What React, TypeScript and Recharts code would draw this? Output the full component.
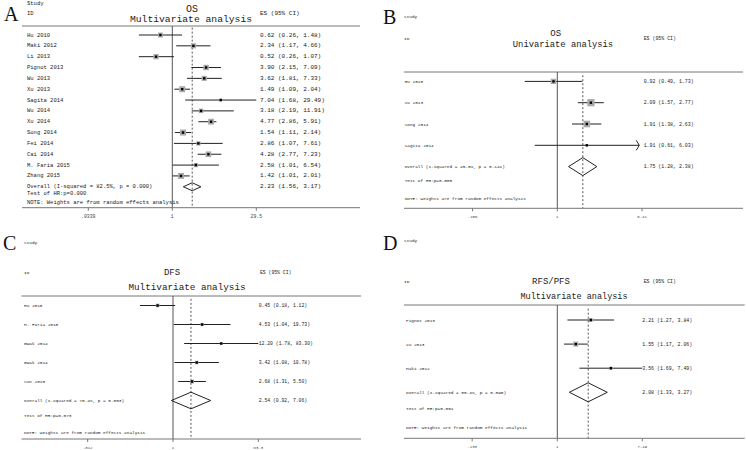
import React from 'react';
import { ComposedChart, XAxis, YAxis, Scatter, ReferenceLine } from 'recharts';

// A: OS, multivariate
const A_STUDY = ['Hu 2010', 'Maki 2012', 'Li 2013', 'Pignot 2013', 'Wu 2013', 'Xu 2013', 'Sagita 2014', 'Wu 2014', 'Xu 2014', 'Song 2014', 'Fei 2014', 'Cai 2014', 'M. Faria 2015', 'Zhang 2015'];
const A_ES = [0.62, 2.34, 0.52, 3.9, 3.62, 1.49, 7.04, 3.18, 4.77, 1.54, 2.86, 4.28, 2.58, 1.42];
const A_LO = [0.26, 1.17, 0.26, 2.15, 1.81, 1.09, 1.68, 2.19, 2.86, 1.11, 1.07, 2.77, 1.01, 1.01];
const A_HI = [1.48, 4.66, 1.07, 7.09, 7.33, 2.04, 29.49, 11.91, 5.91, 2.14, 7.61, 7.23, 6.54, 2.01];
const A_WEIGHT = [6, 6.5, 7, 7.5, 6.5, 9, 2, 5, 8.5, 9, 4.5, 8, 4.5, 9];
const A_OVERALL = [2.23, 1.56, 3.17];
const A_STATS = ['82.5', '0.000', '0.000']; // I-squared, p, test of HR p
const A_TICKS = [0.0339, 1, 29.5];
const A_TICK_LABELS = ['.0339', '1', '29.5'];

// B: OS, univariate
const B_STUDY = ['Hu 2010', 'Xu 2013', 'Song 2014', 'Sagita 2014'];
const B_ES = [0.92, 2.09, 1.91, 1.91];
const B_LO = [0.49, 1.57, 1.38, 0.61];
const B_HI = [1.73, 2.77, 2.63, 6.03];
const B_WEIGHT = [20, 36, 30, 3];
const B_ARROW = [false, false, false, true];
const B_OVERALL = [1.75, 1.28, 2.38];
const B_STATS = ['45.8', '0.141', '0.000'];
const B_TICKS = [0.156, 1, 6.41];
const B_TICK_LABELS = ['.156', '1', '6.41'];

// C: DFS, multivariate
const C_STUDY = ['Hu 2010', 'M. Faria 2015', 'Gwak 2014', 'Gwak 2014', 'Sun 2015'];
const C_ES = [0.45, 4.53, 12.2, 3.42, 2.68];
const C_LO = [0.18, 1.04, 1.78, 1.08, 1.31];
const C_HI = [1.12, 19.73, 83.3, 10.78, 5.5];
const C_WEIGHT = [21, 17, 11, 19, 24];
const C_OVERALL = [2.54, 0.92, 7.06];
const C_STATS = ['75.4', '0.003', '0.073'];
const C_TICKS = [0.012, 1, 83.3];
const C_TICK_LABELS = ['.012', '1', '83.3'];

// D: RFS/PFS, multivariate
const D_STUDY = ['Pignot 2013', 'Xu 2013', 'Maki 2012'];
const D_ES = [2.21, 1.55, 3.56];
const D_LO = [1.27, 1.17, 1.69];
const D_HI = [3.84, 2.06, 7.49];
const D_WEIGHT = [30, 50, 20];
const D_OVERALL = [2.08, 1.33, 3.27];
const D_STATS = ['58.4', '0.090', '0.001'];
const D_TICKS = [0.133, 1, 7.49];
const D_TICK_LABELS = ['.133', '1', '7.49'];

const PW = 373;
const PH = 225;
const AXIS_H = 14;
const MONO = '"Liberation Mono", "DejaVu Sans Mono", monospace';

const fmt = (v: number) => v.toFixed(2);
const ciText = (es: number, lo: number, hi: number) => `${fmt(es)} (${fmt(lo)}, ${fmt(hi)})`;

function Txt({ x, y, size, children, center, color = '#222', font = MONO }: any) {
  return (
    <div
      style={{
        position: 'absolute',
        left: x,
        top: y,
        fontFamily: font,
        fontSize: size,
        lineHeight: 1,
        whiteSpace: 'pre',
        color,
        transform: center ? 'translate(-50%, -50%)' : 'translateY(-50%)',
      }}
    >
      {children}
    </div>
  );
}

function Forest({ pos, letter, title, sub, study, es, lo, hi, weight, arrow, overall, stats, ticks, tickLabels, g }: any) {
  const n = study.length;
  const d0 = 1 - (g.row1 - g.top) / g.spacing;
  const d1 = 1 + (g.bottom - g.row1) / g.spacing;
  const xDomain = [Math.exp((g.left - g.x1) / g.pxPerLn), Math.exp((g.right - g.x1) / g.pxPerLn)];
  const oy = n + 1;
  const dh = g.diamondHalf / g.spacing;
  const [oes, olo, ohi] = overall;

  const boxes = study.map((_: string, i: number) => ({ x: es[i], y: i + 1, w: weight[i] }));
  const arrows = study
    .map((_: string, i: number) => ({ x: hi[i], y: i + 1, on: arrow ? arrow[i] : false }))
    .filter((d: any) => d.on);
  const labels = [
    ...study.map((s: string, i: number) => ({ x: 1, y: i + 1, label: s, text: ciText(es[i], lo[i], hi[i]) })),
    { x: 1, y: oy, label: `Overall  (I-squared = ${stats[0]}%, p = ${stats[1]})`, text: ciText(oes, olo, ohi) },
  ];
  const diamond = [
    [{ x: olo, y: oy }, { x: oes, y: oy - dh }],
    [{ x: oes, y: oy - dh }, { x: ohi, y: oy }],
    [{ x: ohi, y: oy }, { x: oes, y: oy + dh }],
    [{ x: oes, y: oy + dh }, { x: olo, y: oy }],
  ];

  const renderBox = (p: any) => {
    const s = g.boxK * Math.sqrt(p.payload.w);
    return (
      <g>
        <rect x={p.cx - s / 2} y={p.cy - s / 2} width={s} height={s} fill="#a9a9a9" />
        <rect x={p.cx - 1.2} y={p.cy - 1.2} width={2.4} height={2.4} fill="#000" />
      </g>
    );
  };
  const renderArrow = (p: any) => (
    <path d={`M${p.cx - 3},${p.cy - 5} Q${p.cx - 1},${p.cy - 2} ${p.cx},${p.cy} Q${p.cx - 1},${p.cy + 2} ${p.cx - 3},${p.cy + 5}`} fill="none" stroke="#222" strokeWidth={1} />
  );
  const renderLabel = (p: any) => (
    <g fontFamily={MONO} fill="#222">
      <text x={g.labelX} y={p.cy} fontSize={g.small} dominantBaseline="central">{p.payload.label}</text>
      <text x={g.esX} y={p.cy} fontSize={g.esFont} dominantBaseline="central">{p.payload.text}</text>
    </g>
  );
  const tickFmt = (v: number) => {
    const k = ticks.findIndex((t: number) => Math.abs(t - v) < 1e-9);
    return k >= 0 ? tickLabels[k] : '';
  };

  return (
    <div style={{ position: 'absolute', left: pos[0], top: pos[1], width: PW, height: PH }}>
      <ComposedChart
        width={PW}
        height={PH}
        margin={{ top: g.top, left: g.left, right: PW - g.right, bottom: PH - g.bottom - AXIS_H }}
      >
        <XAxis
          dataKey="x"
          type="number"
          scale="log"
          domain={xDomain}
          allowDataOverflow
          ticks={ticks}
          tickFormatter={tickFmt}
          height={AXIS_H}
          tickSize={3}
          tickMargin={4}
          interval={0}
          axisLine={{ stroke: '#777' }}
          tickLine={{ stroke: '#777' }}
          tick={{ fontSize: g.tickFont, fontFamily: MONO, fill: '#444' }}
        />
        <YAxis dataKey="y" type="number" domain={[d0, d1]} allowDataOverflow reversed hide />
        <ReferenceLine y={d0} stroke="#777" ifOverflow="visible" />
        <ReferenceLine x={1} stroke="#555" ifOverflow="visible" />
        <ReferenceLine
          segment={[{ x: oes, y: d0 + 0.15 }, { x: oes, y: d1 }]}
          stroke="#555"
          strokeDasharray="2 2"
          ifOverflow="visible"
        />
        {study.map((_: string, i: number) => (
          <ReferenceLine
            key={i}
            segment={[{ x: lo[i], y: i + 1 }, { x: hi[i], y: i + 1 }]}
            stroke="#222"
            ifOverflow="visible"
          />
        ))}
        {diamond.map((seg, i) => (
          <ReferenceLine key={`d${i}`} segment={seg} stroke="#222" ifOverflow="visible" />
        ))}
        <Scatter data={boxes} shape={renderBox} isAnimationActive={false} />
        <Scatter data={arrows} shape={renderArrow} isAnimationActive={false} />
        <Scatter data={labels} shape={renderLabel} isAnimationActive={false} />
      </ComposedChart>
      <Txt x={g.letterX} y={g.letterY} size={20} color="#111" font='"Liberation Serif", serif'>{letter}</Txt>
      <Txt x={g.headX} y={g.studyY} size={g.small}>Study</Txt>
      <Txt x={g.headX} y={g.idY} size={g.small}>ID</Txt>
      <Txt x={g.esHeadX} y={g.idY} size={g.esFont}>ES (95% CI)</Txt>
      <Txt x={g.titleX} y={g.titleY} size={g.titleSize} center>{title}</Txt>
      <Txt x={g.subX} y={g.subY} size={g.subSize} center>{sub}</Txt>
      <Txt x={g.labelX} y={g.testY} size={g.small}>{`Test of HR:p=${stats[2]}`}</Txt>
      <Txt x={g.labelX} y={g.noteY} size={g.small}>NOTE: Weights are from random effects analysis</Txt>
    </div>
  );
}

const GA = { left: 22, right: 360, top: 26, bottom: 207.7, row1: 35, spacing: 10.84, x1: 172.3, pxPerLn: 24.82, labelX: 27, esX: 260, small: 5.5, esFont: 6, tickFont: 4.8, boxK: 2.0, diamondHalf: 4, testY: 194.3, noteY: 202.7, letterX: 4, letterY: 14, headX: 27, studyY: 4, idY: 14, esHeadX: 260, titleX: 192, titleY: 10, titleSize: 10, subX: 191, subY: 20, subSize: 9.7 };
const GB = { left: 31, right: 370, top: 72, bottom: 208.3, row1: 81.4, spacing: 21.3, x1: 184.3, pxPerLn: 45.6, labelX: 31.7, esX: 270.7, small: 4.4, esFont: 4.9, tickFont: 4, boxK: 1.2, diamondHalf: 9, testY: 181, noteY: 199, letterX: 10, letterY: 17, headX: 31, studyY: 17, idY: 39, esHeadX: 270.7, titleX: 182.7, titleY: 33.5, titleSize: 9, subX: 190, subY: 45, subSize: 8.8 };
const GC = { left: 21.5, right: 361, top: 71, bottom: 214, row1: 80.5, spacing: 19, x1: 173, pxPerLn: 19.29, labelX: 24, esX: 258.7, small: 4.4, esFont: 4.75, tickFont: 4, boxK: 0.8, diamondHalf: 8.3, testY: 191, noteY: 207.7, letterX: 3, letterY: 17.5, headX: 24, studyY: 18.3, idY: 48.3, esHeadX: 260, titleX: 172, titleY: 48.3, titleSize: 9, subX: 187, subY: 62.7, subSize: 9.3 };
const GD = { left: 31, right: 371.7, top: 80, bottom: 213.3, row1: 95, spacing: 24.1, x1: 184.3, pxPerLn: 42.2, labelX: 33, esX: 269.3, small: 4.4, esFont: 4.9, tickFont: 4, boxK: 0.7, diamondHalf: 9.5, testY: 184, noteY: 203.3, letterX: 10, letterY: 18, headX: 31, studyY: 16, idY: 57.3, esHeadX: 270.7, titleX: 178, titleY: 57.3, titleSize: 9, subX: 201, subY: 71.7, subSize: 8.5 };

export default function App() {
  return (
    <div style={{ position: 'absolute', left: 0, top: 0, width: 746, height: 450, background: '#fff', overflow: 'hidden' }}>
      <Forest pos={[0, 0]} letter="A" title="OS" sub="Multivariate analysis" study={A_STUDY} es={A_ES} lo={A_LO} hi={A_HI} weight={A_WEIGHT} overall={A_OVERALL} stats={A_STATS} ticks={A_TICKS} tickLabels={A_TICK_LABELS} g={GA} />
      <Forest pos={[373, 0]} letter="B" title="OS" sub="Univariate analysis" study={B_STUDY} es={B_ES} lo={B_LO} hi={B_HI} weight={B_WEIGHT} arrow={B_ARROW} overall={B_OVERALL} stats={B_STATS} ticks={B_TICKS} tickLabels={B_TICK_LABELS} g={GB} />
      <Forest pos={[0, 225]} letter="C" title="DFS" sub="Multivariate analysis" study={C_STUDY} es={C_ES} lo={C_LO} hi={C_HI} weight={C_WEIGHT} overall={C_OVERALL} stats={C_STATS} ticks={C_TICKS} tickLabels={C_TICK_LABELS} g={GC} />
      <Forest pos={[373, 225]} letter="D" title="RFS/PFS" sub="Multivariate analysis" study={D_STUDY} es={D_ES} lo={D_LO} hi={D_HI} weight={D_WEIGHT} overall={D_OVERALL} stats={D_STATS} ticks={D_TICKS} tickLabels={D_TICK_LABELS} g={GD} />
    </div>
  );
}
